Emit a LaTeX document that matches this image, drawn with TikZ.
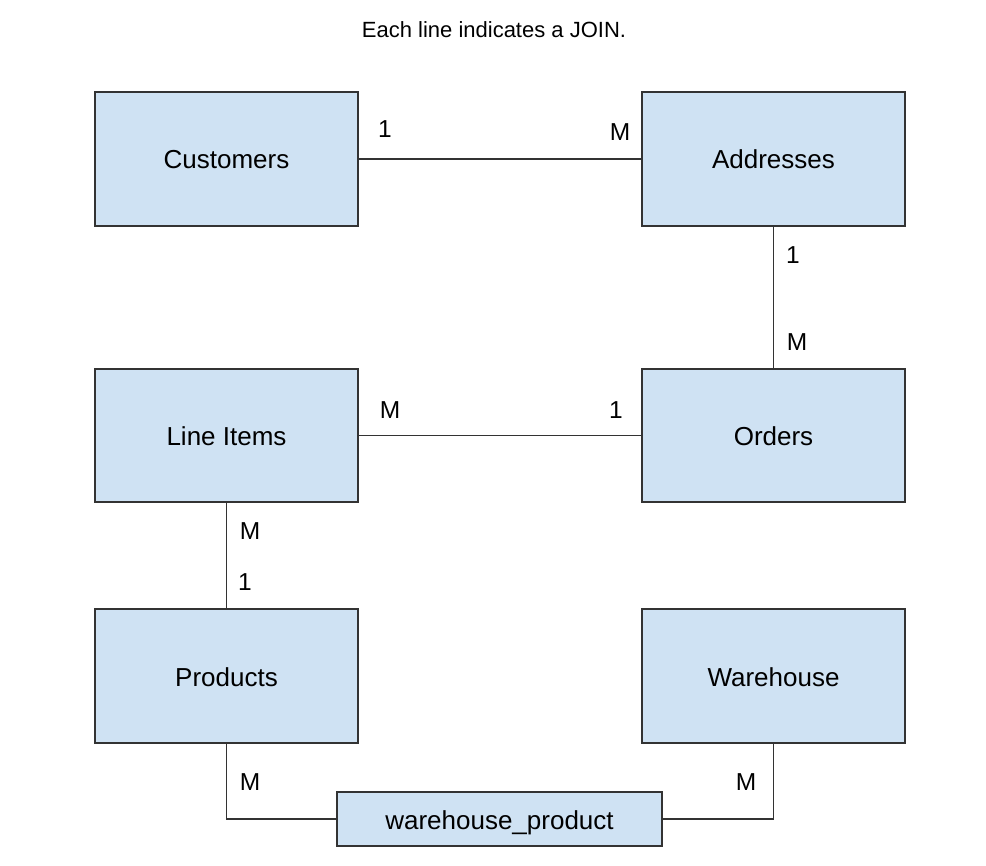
\documentclass[tikz,border=0pt]{standalone}
\usepackage{fontspec}
\setmainfont{Liberation Sans}
\definecolor{boxfill}{HTML}{CFE2F3}
\definecolor{edge}{HTML}{333333}
\begin{document}
\begin{tikzpicture}[x=1pt,y=-1pt,
  entity/.style={draw=edge,fill=boxfill,line width=1.3pt,minimum width=263pt,minimum height=134pt,inner sep=0pt,text height=20pt,text depth=0pt,font=\fontsize{26}{30}\selectfont},
  link/.style={draw=edge,line width=1.3pt},
  card/.style={inner sep=0pt,font=\fontsize{24.5}{28}\selectfont}]
\useasboundingbox (0,0) rectangle (986,866);
\node[font=\fontsize{22}{26}\selectfont] (title) at (494,30) {Each line indicates a JOIN.};
\node[entity] (cust) at (226.5,159) {Customers};
\node[entity] (addr) at (773.5,159) {Addresses};
\node[entity,minimum height=133pt] (li) at (226.5,435.5) {Line Items};
\node[entity,minimum height=133pt] (ord) at (773.5,435.5) {Orders};
\node[entity] (prod) at (226.5,676) {Products};
\node[entity] (wh) at (773.5,676) {Warehouse};
\node[entity,minimum width=325pt,minimum height=54pt] (wp) at (499.5,819) {warehouse\_product};
\draw[link] (cust.east) -- (addr.west);
\draw[link] (addr.south) -- (ord.north);
\draw[link] (li.east) -- (ord.west);
\draw[link] (li.south) -- (prod.north);
\draw[link] (prod.south) |- (wp.west);
\draw[link] (wh.south) |- (wp.east);
\node[card] (c1) at (385,129) {1};
\node[card] (c2) at (620,132) {M};
\node[card] (c3) at (793,255) {1};
\node[card] (c4) at (797,342) {M};
\node[card] (c5) at (390,410) {M};
\node[card] (c6) at (616,410) {1};
\node[card] (c7) at (250,531) {M};
\node[card] (c8) at (245,582) {1};
\node[card] (c9) at (250,782) {M};
\node[card] (c10) at (746,782) {M};
\end{tikzpicture}
\end{document}
